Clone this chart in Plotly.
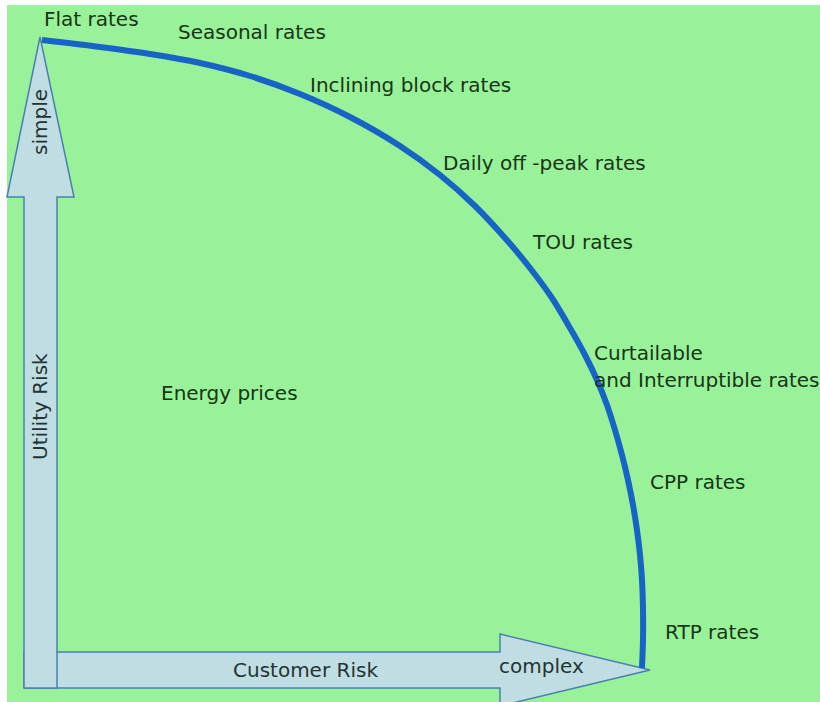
import plotly.graph_objects as go

# ---- data (diagram units = pixels of the original picture, y downward) ----
curve_x = [42, 100, 150, 200, 250, 300, 350, 400, 440, 475, 505, 530, 552, 570, 585, 597,
           607, 615, 622, 628, 633, 637, 640, 642, 643, 643, 642]
curve_y = [40, 47, 54, 63, 76, 94, 117, 146, 175, 206, 238, 268, 298, 328, 355, 380,
           405, 430, 455, 480, 505, 530, 555, 580, 610, 640, 668]

v_arrow_x = [24, 24, 7, 40, 74, 57, 57, 24]
v_arrow_y = [688, 197, 197, 37, 197, 197, 688, 688]

h_arrow_x = [24, 500, 500, 650, 500, 500, 24, 24]
h_arrow_y = [652, 652, 634, 670, 706, 688, 688, 652]

rate_labels = ["Flat rates", "Seasonal rates", "Inclining block rates", "Daily off -peak rates",
               "TOU rates", "Curtailable", "and Interruptible rates", "CPP rates", "RTP rates",
               "Energy prices"]
rate_label_x = [42, 176, 308, 441, 530, 592, 592, 648, 663, 159]
rate_label_y = [19, 32, 85, 163, 242, 353, 380, 482, 632, 393]

arrow_labels = ["Customer Risk", "complex"]
arrow_label_x = [305, 541]
arrow_label_y = [670, 666]
axis_labels = ["simple", "Utility Risk"]
axis_label_x = [40, 40]
axis_label_y = [122, 407]

GREEN = "#99F299"
ARROW_FILL = "#C0DDE3"
ARROW_LINE = "#4A80B0"
CURVE = "#1764C6"
TEXT = "#163616"
FONT = "DejaVu Sans"

fig = go.Figure()

fig.add_shape(type="rect", x0=7, y0=5, x1=820, y1=702, fillcolor=GREEN,
              line=dict(width=0), layer="below")

fig.add_trace(go.Scatter(x=h_arrow_x, y=h_arrow_y, mode="lines", fill="toself",
                         fillcolor=ARROW_FILL, line=dict(color=ARROW_LINE, width=1.5),
                         hoverinfo="skip", showlegend=False))
fig.add_trace(go.Scatter(x=v_arrow_x, y=v_arrow_y, mode="lines", fill="toself",
                         fillcolor=ARROW_FILL, line=dict(color=ARROW_LINE, width=1.5),
                         hoverinfo="skip", showlegend=False))
fig.add_trace(go.Scatter(x=curve_x, y=curve_y, mode="lines",
                         line=dict(color=CURVE, width=6, shape="spline", smoothing=0.8),
                         hoverinfo="skip", showlegend=False))

for t, x, y in zip(rate_labels, rate_label_x, rate_label_y):
    fig.add_annotation(x=x, y=y, text=t, showarrow=False, xanchor="left", yanchor="middle",
                       font=dict(family=FONT, size=20, color=TEXT))
for t, x, y in zip(arrow_labels, arrow_label_x, arrow_label_y):
    fig.add_annotation(x=x, y=y, text=t, showarrow=False, xanchor="center", yanchor="middle",
                       font=dict(family=FONT, size=20, color="#243434"))
for t, x, y in zip(axis_labels, axis_label_x, axis_label_y):
    fig.add_annotation(x=x, y=y, text=t, showarrow=False, xanchor="center", yanchor="middle",
                       textangle=-90, font=dict(family=FONT, size=20, color="#243434"))

fig.update_layout(
    width=820, height=702,
    margin=dict(l=0, r=0, t=0, b=0),
    paper_bgcolor="white", plot_bgcolor="white",
    xaxis=dict(range=[0, 820], visible=False, fixedrange=True),
    yaxis=dict(range=[702, 0], visible=False, fixedrange=True),
)

fig.write_html("out.html", config={"displayModeBar": False},
               post_script="document.body.style.margin='0';document.body.style.overflow='hidden';")
